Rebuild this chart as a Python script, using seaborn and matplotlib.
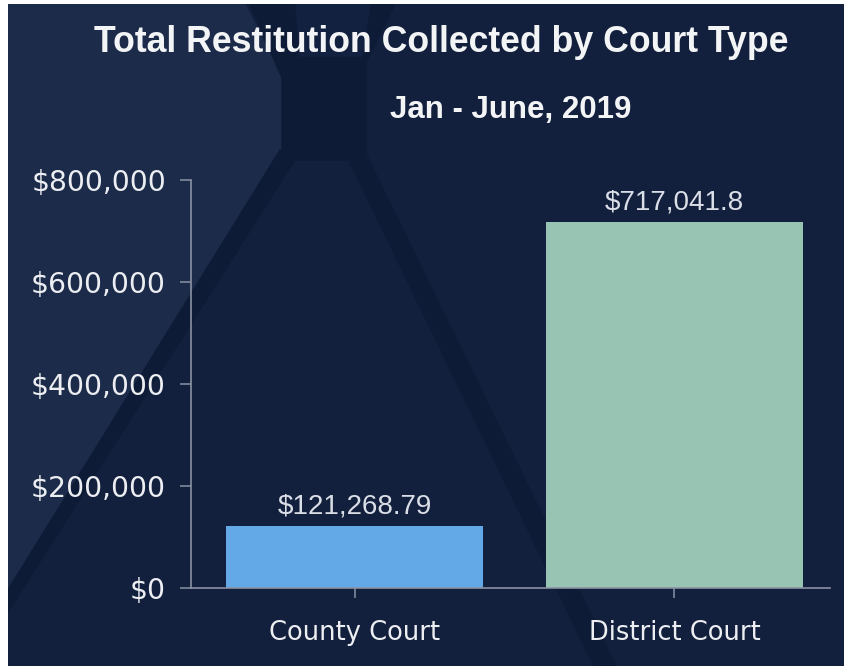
import matplotlib
matplotlib.use("Agg")
from matplotlib import pyplot as plt
from matplotlib.patches import Polygon
import matplotlib.ticker as mticker
import seaborn as sns

courts = ["County Court", "District Court"]
totals = [121268.79, 717041.8]
bar_colors = ["#63a8e7", "#98c5b3"]
yticks = [0, 200000, 400000, 600000, 800000]

title = "Total Restitution Collected by Court Type"
subtitle = "Jan - June, 2019"

sns.set_style("dark")
plt.rcParams["font.family"] = ["DejaVu Sans"]

fig = plt.figure(figsize=(8.45, 6.66), dpi=100, facecolor="white")

# background panel with the faint decorative shapes (pixel coords)
bg = fig.add_axes([8 / 845, 0, 1 - 8 / 845, 1 - 4 / 666], zorder=0)
bg.set_xlim(8, 845)
bg.set_ylim(666, 4)
bg.axis("off")
dark = "#0e1b37"
bg.add_patch(Polygon([(8, 4), (845, 4), (845, 666), (8, 666)], color="#121f3d"))
bg.add_patch(Polygon([(8, 4), (245, 4), (282, 78), (282, 150), (8, 588)], color="#1c2b4a"))
bg.add_patch(Polygon([(250, 4), (395, 4), (366, 62), (366, 160), (282, 160), (282, 78)], color=dark))
bg.add_patch(Polygon([(296, 4), (370, 4), (362, 56), (300, 56)], color="#132141"))
bg.add_patch(Polygon([(280, 150), (296, 158), (8, 612), (8, 590)], color=dark))
bg.add_patch(Polygon([(344, 150), (364, 150), (616, 666), (594, 666)], color=dark))

ax = fig.add_axes([191 / 845, 1 - 588 / 666, (830 - 191) / 845, (588 - 180) / 666], zorder=1)
ax.set_facecolor("none")

sns.barplot(x=courts, y=totals, hue=courts, palette=bar_colors, legend=False,
            width=0.806, saturation=1, linewidth=0, edgecolor="none", ax=ax)

ax.set_ylim(0, 800000)
ax.set_xlim(-0.511, 1.486)
ax.set_yticks(yticks)
ax.yaxis.set_major_formatter(mticker.FuncFormatter(lambda v, p: f"${v:,.0f}"))
ax.set_xlabel("")
ax.set_ylabel("")
ax.grid(False)

for s in ["top", "right"]:
    ax.spines[s].set_visible(False)
for s in ["left", "bottom"]:
    ax.spines[s].set_visible(True)
    ax.spines[s].set_color("#8a92a3")
    ax.spines[s].set_linewidth(1.2)

ax.tick_params(axis="y", left=True, length=8, width=1.1, color="#8a92a3", pad=10,
               labelsize=20.3, labelcolor="#eceef2")
ax.tick_params(axis="x", bottom=True, length=7, width=1.1, color="#8a92a3", pad=16,
               labelsize=18.5, labelcolor="#eceef2")

for cont in ax.containers:
    ax.bar_label(cont, labels=[f"${v:,}" for v in cont.datavalues], padding=5,
                 fontsize=20, color="#dadee6", family="Liberation Sans")

fig.text(441 / 845, 1 - 42 / 666, title, ha="center", va="center", fontsize=25.7,
         fontweight="bold", color="#f3f4f6", family="Liberation Sans")
fig.text(511 / 845, 1 - 110 / 666, subtitle, ha="center", va="center", fontsize=22.5,
         fontweight="bold", color="#f3f4f6", family="Liberation Sans")

fig.savefig("out.png", dpi=100, facecolor=fig.get_facecolor())
